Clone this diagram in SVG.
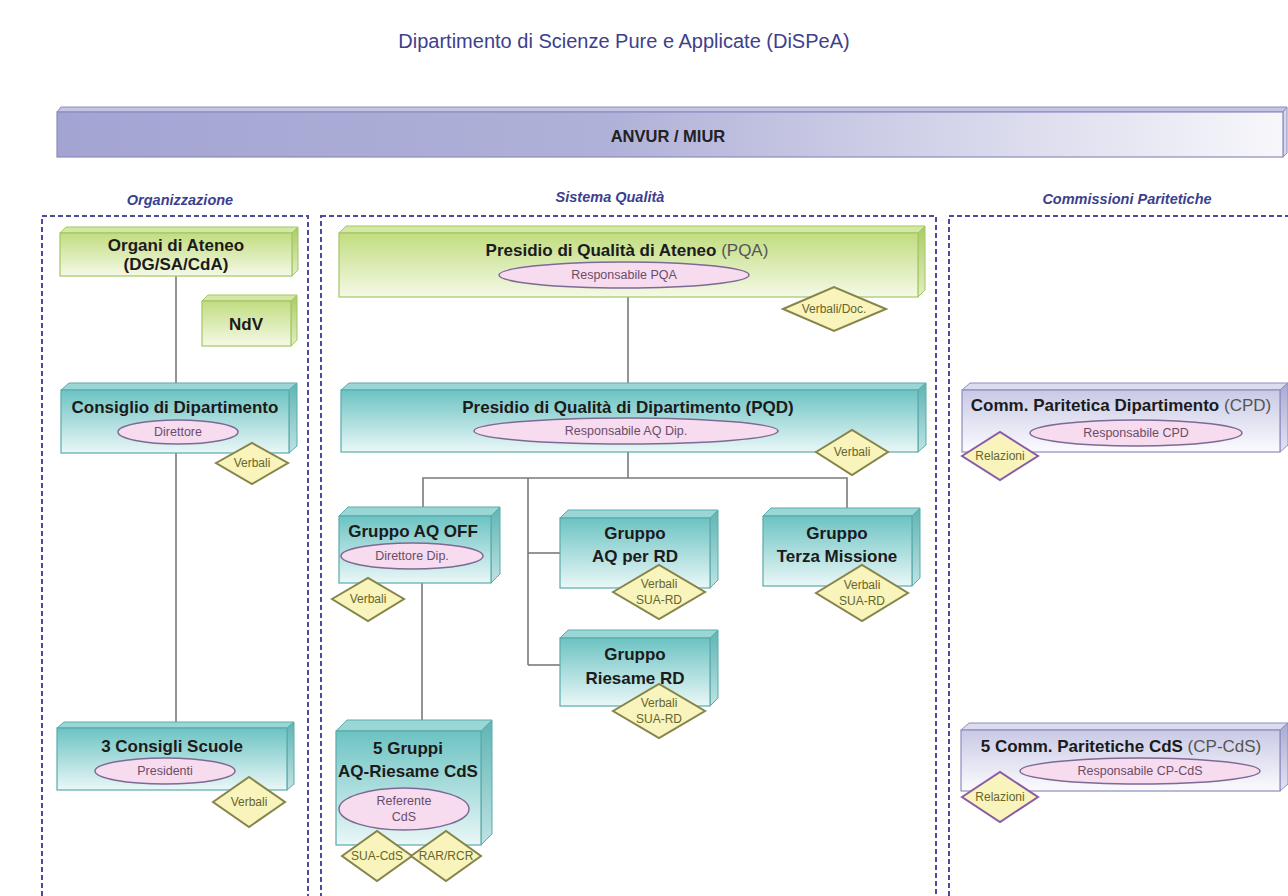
<svg xmlns="http://www.w3.org/2000/svg" width="1288" height="896" viewBox="0 0 1288 896">
<defs>
<linearGradient id="gTeal" x1="0" y1="0" x2="0" y2="1"><stop offset="0" stop-color="#6cc3c3"/><stop offset="1" stop-color="#eaf7f7"/></linearGradient>
<linearGradient id="gGreen" x1="0" y1="0" x2="0" y2="1"><stop offset="0" stop-color="#c1dd80"/><stop offset="1" stop-color="#f5f9e6"/></linearGradient>
<linearGradient id="gPurple" x1="0" y1="0" x2="0" y2="1"><stop offset="0" stop-color="#c9c9e6"/><stop offset="1" stop-color="#fbfbfe"/></linearGradient>
<linearGradient id="gBar" x1="0" y1="0" x2="1" y2="0"><stop offset="0" stop-color="#a3a4d2"/><stop offset="0.45" stop-color="#b0b1d8"/><stop offset="1" stop-color="#f7f7fb"/></linearGradient>
<linearGradient id="gTealSide" x1="0" y1="0" x2="0" y2="1"><stop offset="0" stop-color="#5fb4b4"/><stop offset="1" stop-color="#bfe3e3"/></linearGradient>
<linearGradient id="gGreenSide" x1="0" y1="0" x2="0" y2="1"><stop offset="0" stop-color="#aacb66"/><stop offset="1" stop-color="#e2efc4"/></linearGradient>
<linearGradient id="gPurpleSide" x1="0" y1="0" x2="0" y2="1"><stop offset="0" stop-color="#a9a9d3"/><stop offset="1" stop-color="#e4e4f3"/></linearGradient>
</defs>
<style>
.title{font-family:"Liberation Sans",Arial,sans-serif;font-size:20px;fill:#3d418c;}
.col{font-family:"Liberation Sans",Arial,sans-serif;font-size:14.5px;font-weight:bold;font-style:italic;fill:#3c3f8e;}
.bt{font-family:"Liberation Sans",Arial,sans-serif;font-size:17px;font-weight:bold;fill:#1b1b1b;text-anchor:middle;}
.rg{font-weight:normal;fill:#555;}
.et{font-family:"Liberation Sans",Arial,sans-serif;font-size:12.5px;fill:#6a4d6a;text-anchor:middle;}
.dt{font-family:"Liberation Sans",Arial,sans-serif;font-size:12px;fill:#66662c;text-anchor:middle;}
.cont{fill:none;stroke:#4b4c9c;stroke-width:2;stroke-dasharray:5 3;}
.tf{fill:url(#gTeal);stroke:#5aabab;stroke-width:1.2;}
.ts{fill:url(#gTealSide);stroke:#5aabab;stroke-width:1;}
.tt{fill:#9ad6d6;stroke:#5aabab;stroke-width:1;}
.gf{fill:url(#gGreen);stroke:#a4c664;stroke-width:1.2;}
.gs{fill:url(#gGreenSide);stroke:#a4c664;stroke-width:1;}
.gt{fill:#d3e8a4;stroke:#a4c664;stroke-width:1;}
.pf{fill:url(#gPurple);stroke:#8d8dbf;stroke-width:1.2;}
.ps{fill:url(#gPurpleSide);stroke:#8d8dbf;stroke-width:1;}
.pt{fill:#dcdcef;stroke:#8d8dbf;stroke-width:1;}
.el{fill:#f7dbef;stroke:#7d6a94;stroke-width:1.5;}
.dm{fill:#f8f4bc;stroke:#85854a;stroke-width:2;}
.dmp{fill:#f8f4bc;stroke:#8a5aa6;stroke-width:2;}
.ln{fill:none;stroke:#7a7a7a;stroke-width:1.6;}
</style>
<rect width="1288" height="896" fill="#ffffff"/>
<text class="title" x="624" y="48" text-anchor="middle">Dipartimento di Scienze Pure e Applicate (DiSPeA)</text>
<g id="anvur">
<polygon points="57,112 61,107 1287,107 1283,112" fill="#c4c5e3" stroke="#8b8cbf" stroke-width="1"/>
<polygon points="1283,112 1287,107 1287,153 1283,157" fill="#d8d8ec" stroke="#8b8cbf" stroke-width="1"/>
<rect x="57" y="112" width="1226" height="45" fill="url(#gBar)" stroke="#8b8cbf" stroke-width="1.2"/>
<text x="668" y="142" text-anchor="middle" font-family="Liberation Sans, Arial, sans-serif" font-size="16.5" font-weight="bold" fill="#222">ANVUR / MIUR</text>
</g>
<g id="containers">
<text class="col" x="180" y="205" text-anchor="middle">Organizzazione</text>
<text class="col" x="610" y="202" text-anchor="middle">Sistema Qualità</text>
<text class="col" x="1127" y="204" text-anchor="middle">Commissioni Paritetiche</text>
<rect class="cont" x="42" y="216" width="266" height="690"/>
<rect class="cont" x="321" y="216" width="615" height="690"/>
<rect class="cont" x="949" y="216" width="350" height="690"/>
</g>
<g id="connectors">
<line class="ln" x1="176" y1="275" x2="176" y2="728"/>
<line class="ln" x1="628" y1="297" x2="628" y2="390"/>
<polyline class="ln" points="628,452 628,478"/>
<polyline class="ln" points="423,516 423,478 847,478 847,516"/>
<line class="ln" x1="528" y1="478" x2="528" y2="665"/>
<line class="ln" x1="528" y1="553" x2="560" y2="553"/>
<line class="ln" x1="528" y1="665" x2="560" y2="665"/>
<line class="ln" x1="422" y1="583" x2="422" y2="731"/>
</g>
<g id="organi">
<polygon class="gt" points="60,233 66,227 298,227 292,233"/>
<polygon class="gs" points="292,233 298,227 298,270 292,276"/>
<rect class="gf" x="60" y="233" width="232" height="43"/>
<text class="bt" x="176" y="251">Organi di Ateneo</text>
<text class="bt" x="176" y="270">(DG/SA/CdA)</text>
</g>
<g id="ndv">
<polygon class="gt" points="202,301 208,295 297,295 291,301"/>
<polygon class="gs" points="291,301 297,295 297,340 291,346"/>
<rect class="gf" x="202" y="301" width="89" height="45"/>
<text class="bt" x="246" y="330">NdV</text>
</g>
<g id="consiglio">
<polygon class="tt" points="61,390 69,383 297,383 289,390"/>
<polygon class="ts" points="289,390 297,383 297,446 289,453"/>
<rect class="tf" x="61" y="390" width="228" height="63"/>
<text class="bt" x="175" y="413">Consiglio di Dipartimento</text>
<ellipse class="el" cx="178" cy="432" rx="60" ry="12"/>
<text class="et" x="178" y="436">Direttore</text>
<polygon class="dm" points="216,463 252,443 288,463 252,484"/>
<text class="dt" x="252" y="467">Verbali</text>
</g>
<g id="scuole">
<polygon class="tt" points="57,728 64,722 294,722 287,728"/>
<polygon class="ts" points="287,728 294,722 294,784 287,790"/>
<rect class="tf" x="57" y="728" width="230" height="62"/>
<text class="bt" x="172" y="752">3 Consigli Scuole</text>
<ellipse class="el" cx="165" cy="771" rx="70" ry="13"/>
<text class="et" x="165" y="775">Presidenti</text>
<polygon class="dm" points="213,802 249,777 285,802 249,827"/>
<text class="dt" x="249" y="806">Verbali</text>
</g>
<g id="pqa">
<polygon class="gt" points="339,233 346,226 925,226 918,233"/>
<polygon class="gs" points="918,233 925,226 925,290 918,297"/>
<rect class="gf" x="339" y="233" width="579" height="64"/>
<text class="bt" x="627" y="256">Presidio di Qualità di Ateneo <tspan class="rg">(PQA)</tspan></text>
<ellipse class="el" cx="624" cy="275" rx="125" ry="13"/>
<text class="et" x="624" y="279">Responsabile PQA</text>
<polygon class="dm" points="783,309 834,287 886,309 834,331"/>
<text class="dt" x="834" y="313">Verbali/Doc.</text>
</g>
<g id="pqd">
<polygon class="tt" points="341,390 349,383 926,383 918,390"/>
<polygon class="ts" points="918,390 926,383 926,445 918,452"/>
<rect class="tf" x="341" y="390" width="577" height="62"/>
<text class="bt" x="628" y="413">Presidio di Qualità di Dipartimento (PQD)</text>
<ellipse class="el" cx="626" cy="431" rx="152" ry="13"/>
<text class="et" x="626" y="435">Responsabile AQ Dip.</text>
<polygon class="dm" points="816,452 852,430 888,452 852,475"/>
<text class="dt" x="852" y="456">Verbali</text>
</g>
<g id="aqoff">
<polygon class="tt" points="339,516 348,507 500,507 491,516"/>
<polygon class="ts" points="491,516 500,507 500,574 491,583"/>
<rect class="tf" x="339" y="516" width="152" height="67"/>
<text class="bt" x="413" y="537">Gruppo AQ OFF</text>
<ellipse class="el" cx="412" cy="556" rx="71" ry="13"/>
<text class="et" x="412" y="560">Direttore Dip.</text>
<polygon class="dm" points="332,599 368,578 404,599 368,621"/>
<text class="dt" x="368" y="603">Verbali</text>
</g>
<g id="aqrd">
<polygon class="tt" points="560,518 568,510 718,510 710,518"/>
<polygon class="ts" points="710,518 718,510 718,580 710,588"/>
<rect class="tf" x="560" y="518" width="150" height="70"/>
<text class="bt" x="635" y="539">Gruppo</text>
<text class="bt" x="635" y="562">AQ per RD</text>
<polygon class="dm" points="613,592 659,565 705,592 659,619"/>
<text class="dt" x="659" y="588">Verbali</text>
<text class="dt" x="659" y="604">SUA-RD</text>
</g>
<g id="terza">
<polygon class="tt" points="763,516 771,508 920,508 912,516"/>
<polygon class="ts" points="912,516 920,508 920,578 912,586"/>
<rect class="tf" x="763" y="516" width="149" height="70"/>
<text class="bt" x="837" y="539">Gruppo</text>
<text class="bt" x="837" y="562">Terza Missione</text>
<polygon class="dm" points="816,593 862,565 908,593 862,621"/>
<text class="dt" x="862" y="589">Verbali</text>
<text class="dt" x="862" y="605">SUA-RD</text>
</g>
<g id="riesame">
<polygon class="tt" points="560,638 568,630 718,630 710,638"/>
<polygon class="ts" points="710,638 718,630 718,698 710,706"/>
<rect class="tf" x="560" y="638" width="150" height="68"/>
<text class="bt" x="635" y="660">Gruppo</text>
<text class="bt" x="635" y="684">Riesame RD</text>
<polygon class="dm" points="613,711 659,684 705,711 659,738"/>
<text class="dt" x="659" y="707">Verbali</text>
<text class="dt" x="659" y="723">SUA-RD</text>
</g>
<g id="gruppi">
<polygon class="tt" points="336,731 347,720 492,720 481,731"/>
<polygon class="ts" points="481,731 492,720 492,834 481,845"/>
<rect class="tf" x="336" y="731" width="145" height="114"/>
<text class="bt" x="408" y="754">5 Gruppi</text>
<text class="bt" x="408" y="777">AQ-Riesame CdS</text>
<ellipse class="el" cx="404" cy="809" rx="65" ry="21"/>
<text class="et" x="404" y="805">Referente</text>
<text class="et" x="404" y="821">CdS</text>
<polygon class="dm" points="342,856 377,831 412,856 377,881"/>
<polygon class="dm" points="411,856 446,831 481,856 446,881"/>
<text class="dt" x="377" y="860">SUA-CdS</text>
<text class="dt" x="446" y="860">RAR/RCR</text>
</g>
<g id="cpd">
<polygon class="pt" points="962,390 970,383 1288,383 1280,390"/>
<polygon class="ps" points="1280,390 1288,383 1288,445 1280,452"/>
<rect class="pf" x="962" y="390" width="318" height="62"/>
<text class="bt" x="1121" y="411">Comm. Paritetica Dipartimento <tspan class="rg">(CPD)</tspan></text>
<ellipse class="el" cx="1136" cy="433" rx="106" ry="13"/>
<text class="et" x="1136" y="437">Responsabile CPD</text>
<polygon class="dmp" points="962,456 1000,432 1038,456 1000,480"/>
<text class="dt" x="1000" y="460">Relazioni</text>
</g>
<g id="cpcds">
<polygon class="pt" points="961,730 969,723 1288,723 1280,730"/>
<polygon class="ps" points="1280,730 1288,723 1288,784 1280,791"/>
<rect class="pf" x="961" y="730" width="319" height="61"/>
<text class="bt" x="1121" y="752">5 Comm. Paritetiche CdS <tspan class="rg">(CP-CdS)</tspan></text>
<ellipse class="el" cx="1140" cy="771" rx="120" ry="13"/>
<text class="et" x="1140" y="775">Responsabile CP-CdS</text>
<polygon class="dmp" points="962,797 1000,772 1038,797 1000,822"/>
<text class="dt" x="1000" y="801">Relazioni</text>
</g>
</svg>
